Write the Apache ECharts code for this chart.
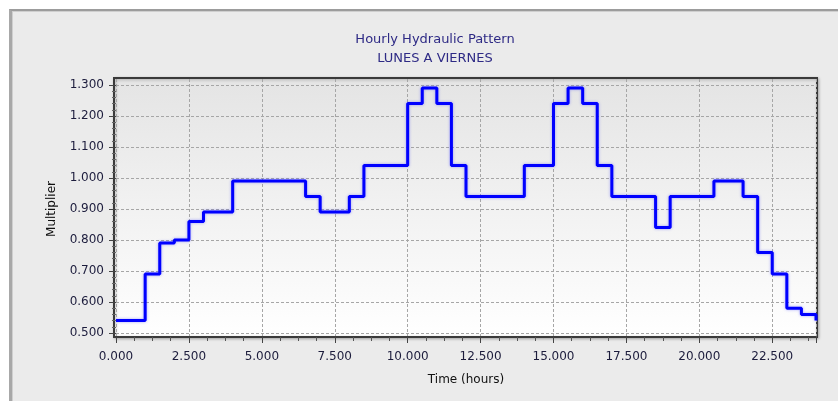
<!DOCTYPE html>
<html>
<head>
<meta charset="utf-8">
<script src="https://cdn.jsdelivr.net/npm/echarts@6/dist/echarts.min.js"></script>
<style>
  html, body { margin: 0; padding: 0; background: #ffffff; }
  #bg { position: absolute; left: 9px; top: 9px; width: 826px; height: 390px;
        border-top: 2px solid #9c9c9c; border-left: 3px solid #a8a8a8;
        box-shadow: inset 1px 1px 0 #cfcfcf; background: #ebebeb; }
  #chart { position: absolute; left: 0; top: 0; width: 838px; height: 404px; }
</style>
</head>
<body>
<div id="bg"></div>
<div id="chart"></div>
<script>
// Time in hours (half-hour steps) and pattern multipliers
const hours = [0, 0.5, 1, 1.5, 2, 2.5, 3, 3.5, 4, 4.5, 5, 5.5, 6, 6.5, 7, 7.5, 8, 8.5, 9, 9.5,
  10, 10.5, 11, 11.5, 12, 12.5, 13, 13.5, 14, 14.5, 15, 15.5, 16, 16.5, 17, 17.5, 18, 18.5,
  19, 19.5, 20, 20.5, 21, 21.5, 22, 22.5, 23, 23.5, 24];
const multipliers = [0.54, 0.54, 0.69, 0.79, 0.80, 0.86, 0.89, 0.89, 0.99, 0.99, 0.99, 0.99, 0.99,
  0.94, 0.89, 0.89, 0.94, 1.04, 1.04, 1.04, 1.24, 1.29, 1.24, 1.04, 0.94, 0.94, 0.94, 0.94,
  1.04, 1.04, 1.24, 1.29, 1.24, 1.04, 0.94, 0.94, 0.94, 0.84, 0.94, 0.94, 0.94, 0.99, 0.99,
  0.94, 0.76, 0.69, 0.58, 0.56, 0.54];
const titleText = 'Hourly Hydraulic Pattern\nLUNES A VIERNES';
const xName = 'Time (hours)';
const yName = 'Multiplier';

const FONT = 'DejaVu Sans';
const FRAME = '#3a3a3a';
const chart = echarts.init(document.getElementById('chart'), null, { renderer: 'canvas' });
chart.setOption({
  animation: false,
  backgroundColor: 'transparent',
  title: {
    text: titleText,
    left: 430, top: 25, textAlign: 'center',
    textStyle: { fontFamily: FONT, fontSize: 13, fontWeight: 'normal', color: '#2e2a85', lineHeight: 19 }
  },
  grid: [
    { left: 114, top: 78, width: 703, height: 259, show: true, borderColor: FRAME, borderWidth: 2,
      backgroundColor: { type: 'linear', x: 0, y: 0, x2: 0, y2: 1,
        colorStops: [{ offset: 0, color: '#e4e4e4' }, { offset: 1, color: '#ffffff' }] },
      shadowColor: 'rgba(0,0,0,0.25)', shadowBlur: 3, shadowOffsetX: 1, shadowOffsetY: 1 },
    { left: 116, top: 85, width: 700, height: 248, show: false },
    { left: 116, top: 79, width: 700, height: 258, show: false }
  ],
  xAxis: [
    { type: 'value', gridIndex: 0, min: 0, max: 1, show: false },
    { type: 'value', gridIndex: 1, min: 0, max: 24, show: false },
    { type: 'value', gridIndex: 2, min: 0, max: 24, interval: 2.5,
      name: xName, nameLocation: 'middle', nameGap: 37,
      nameTextStyle: { fontFamily: FONT, fontSize: 12, color: '#111' },
      axisLine: { show: true, lineStyle: { color: FRAME, width: 2 } },
      axisTick: { show: true, length: 6, lineStyle: { color: '#444' } },
      minorTick: { show: true, splitNumber: 4, length: 4, lineStyle: { color: '#555' } },
      axisLabel: { margin: 14, showMaxLabel: false, fontFamily: FONT, fontSize: 12, color: '#1c1c3c',
        formatter: v => v.toFixed(3) },
      splitLine: { show: true, lineStyle: { color: '#a6a6a6', type: [3, 2], width: 1 } }
    }
  ],
  yAxis: [
    { type: 'value', gridIndex: 0, min: 0, max: 1, show: false },
    { type: 'value', gridIndex: 1, min: 0.5, max: 1.3, interval: 0.1,
      name: yName, nameLocation: 'middle', nameGap: 58, nameRotate: 90,
      nameTextStyle: { fontFamily: FONT, fontSize: 12, color: '#111' },
      axisLine: { show: false },
      axisTick: { show: true, length: 7, lineStyle: { color: '#444' } },
      minorTick: { show: true, splitNumber: 5, length: 4, lineStyle: { color: '#666' } },
      axisLabel: { margin: 12, fontFamily: FONT, fontSize: 12, color: '#1c1c3c',
        formatter: v => v.toFixed(3) },
      splitLine: { show: true, lineStyle: { color: '#a6a6a6', type: [3, 2], width: 1 } }
    },
    { type: 'value', gridIndex: 2, min: 0, max: 1, show: false }
  ],
  series: [{
    type: 'line', xAxisIndex: 1, yAxisIndex: 1, step: 'end', showSymbol: false, clip: false,
    data: hours.map((h, i) => [h, multipliers[i]]),
    lineStyle: { color: '#0000ff', width: 3, shadowColor: 'rgba(60,60,255,0.45)', shadowBlur: 3 }
  }]
});
</script>
</body>
</html>
